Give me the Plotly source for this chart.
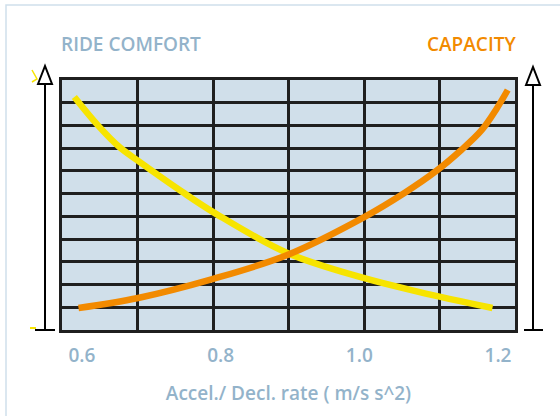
import plotly.graph_objects as go

# ---- data ----
rate_comfort = [0.589, 0.624, 0.654, 0.681, 0.745, 0.794, 0.896, 1.006, 1.087, 1.192]
ride_comfort = [10.25, 8.97, 8.05, 7.44, 6.07, 5.10, 3.39, 2.29, 1.67, 0.97]
rate_capacity = [0.595, 0.681, 0.788, 0.896, 1.007, 1.065, 1.111, 1.147, 1.176, 1.198, 1.214]
capacity = [0.97, 1.41, 2.24, 3.30, 4.97, 6.03, 7.00, 7.92, 8.78, 9.74, 10.56]
x_ticks = [0.6, 0.8, 1.0, 1.2]
x_ticklabels = ["0.6", "0.8", "1.0", "1.2"]

W, H = 560, 416
L, R, T, B = 62, 515, 80, 330

def px(xp):
    return (xp - L) / (R - L)

def py(yp):
    return (B - yp) / (B - T)

FONT = "Open Sans"
LABEL_COLOR = "#93b3ca"
YELLOW = "#f7e400"
ORANGE = "#f28a00"
GRID = "#1f1f1f"

fig = go.Figure()
fig.add_trace(go.Scatter(x=rate_comfort, y=ride_comfort, mode="lines",
                         line=dict(color=YELLOW, width=6.5, shape="spline", smoothing=1),
                         name="RIDE COMFORT", showlegend=False, hoverinfo="skip"))
fig.add_trace(go.Scatter(x=rate_capacity, y=capacity, mode="lines",
                         line=dict(color=ORANGE, width=6.5, shape="spline", smoothing=1),
                         name="CAPACITY", showlegend=False, hoverinfo="skip"))
# invisible trace to activate the grid axis
fig.add_trace(go.Scatter(x=[0, 6], y=[0, 0], xaxis="x2", yaxis="y", mode="markers",
                         marker=dict(opacity=0), showlegend=False, hoverinfo="skip"))

shapes = []
# outer light frame
shapes.append(dict(type="path", xref="paper", yref="paper",
                   path=f"M {px(6)},{py(420)} L {px(6)},{py(5)} L {px(562)},{py(5)}",
                   line=dict(color="#cfe0ec", width=1.5)))

def arrow(xc, y_top_base, y_tip, foot_l, foot_r):
    s = []
    s.append(dict(type="line", xref="paper", yref="paper",
                  x0=px(xc), x1=px(xc), y0=py(B), y1=py(y_top_base),
                  line=dict(color="black", width=2)))
    s.append(dict(type="line", xref="paper", yref="paper",
                  x0=px(foot_l), x1=px(foot_r), y0=py(B), y1=py(B),
                  line=dict(color="black", width=2)))
    s.append(dict(type="path", xref="paper", yref="paper",
                  path=(f"M {px(xc-7)},{py(y_top_base)} L {px(xc)},{py(y_tip)} "
                        f"L {px(xc+7)},{py(y_top_base)} Z"),
                  fillcolor="white", line=dict(color="black", width=2)))
    return s

shapes += arrow(45, 84, 66, 35, 55)
shapes += arrow(533, 85, 67, 524, 543)

# small yellow marks left of the plot
shapes.append(dict(type="path", xref="paper", yref="paper",
                   path=f"M {px(32)},{py(70)} L {px(37)},{py(79)} L {px(32)},{py(82)}",
                   line=dict(color=YELLOW, width=1.5)))
shapes.append(dict(type="line", xref="paper", yref="paper",
                   x0=px(30), x1=px(36), y0=py(328), y1=py(328),
                   line=dict(color=YELLOW, width=2)))

annotations = [
    dict(text="RIDE COMFORT", xref="paper", yref="paper", x=px(59), y=py(44),
         xanchor="left", yanchor="middle", showarrow=False,
         font=dict(family=FONT, size=19, color=LABEL_COLOR, weight=600)),
    dict(text="CAPACITY", xref="paper", yref="paper", x=px(518), y=py(44),
         xanchor="right", yanchor="middle", showarrow=False,
         font=dict(family=FONT, size=19, color=ORANGE, weight=600)),
]

fig.update_layout(
    width=W, height=H,
    margin=dict(l=L, r=W - R, t=T, b=H - B, pad=0),
    paper_bgcolor="white",
    plot_bgcolor="#d0dfea",
    shapes=shapes,
    annotations=annotations,
    xaxis=dict(range=[0.5712, 1.2245], tickvals=x_ticks, ticktext=x_ticklabels,
               showgrid=False, zeroline=False, showline=False, ticks="",
               tickfont=dict(family=FONT, size=19, color=LABEL_COLOR, weight=600),
               ticklabelstandoff=12,
               title=dict(text="Accel./ Decl. rate ( m/s s^2)", standoff=19,
                          font=dict(family=FONT, size=19, color=LABEL_COLOR, weight=600))),
    xaxis2=dict(range=[0, 6], dtick=1, tick0=0, overlaying="x", showgrid=True,
                gridcolor=GRID, gridwidth=2.5, showticklabels=False, zeroline=False,
                showline=True, mirror=True, linecolor=GRID, linewidth=3),
    yaxis=dict(range=[0, 11], dtick=1, tick0=0, showgrid=True, gridcolor=GRID,
               gridwidth=2.5, showticklabels=False, zeroline=False,
               showline=True, mirror=True, linecolor=GRID, linewidth=3),
)

fig.write_html("out.html", config={"displayModeBar": False},
               post_script="document.body.style.margin='0';")
